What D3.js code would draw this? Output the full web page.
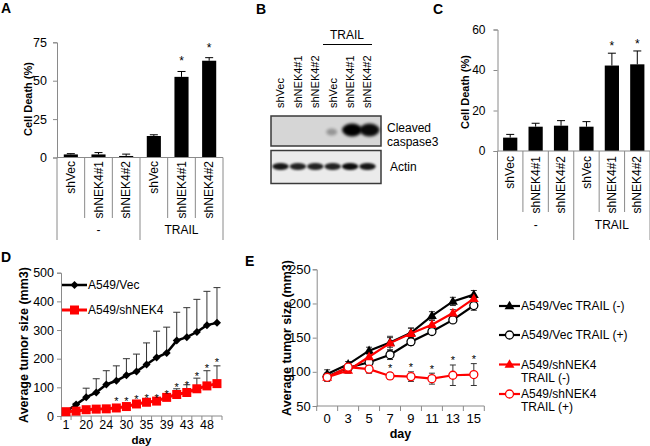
<!DOCTYPE html>
<html><head><meta charset="utf-8">
<script src="https://cdn.jsdelivr.net/npm/d3@7"></script>
<style>body{margin:0;background:#fff}svg{display:block;font-family:"Liberation Sans",Arial,sans-serif}</style>
</head><body><svg id="c" width="650" height="446"></svg>
<script>
// ---------- Panel A / C (bar charts) ----------
const barCats = ["shVec","shNEK4#1","shNEK4#2","shVec","shNEK4#1","shNEK4#2"];
const barGroups = ["-","TRAIL"];
const aValues = [2, 2, 1, 14, 52.5, 63];
const aErrors = [0.5, 1.2, 1.2, 0.8, 3.5, 2];
const aStars  = [false,false,false,false,true,true];
const aTicks  = [0, 25, 50, 75];
const cValues = [6.6, 12, 12.5, 12, 42.2, 42.8];
const cErrors = [1.6, 1.7, 2.5, 2.5, 6.1, 6.6];
const cStars  = [false,false,false,false,true,true];
const cTicks  = [0, 20, 40, 60];
// ---------- Panel B (blot) ----------
const blotLanes = ["shVec","shNEK4#1","shNEK4#2","shVec","shNEK4#1","shNEK4#2"];
const caspaseIntensity = [0, 0, 0, 0.3, 1, 0.95];
const actinIntensity   = [0.9, 0.85, 0.85, 0.85, 0.95, 0.9];
// ---------- Panel D ----------
const dDays = ["1","17","20","22","24","27","30","32","35","37","39","41","43","46","48","50"];
const dLabelDays = ["1","20","24","30","35","39","43","48"];
const vecMean = [15, 40, 65, 82, 110, 123, 142, 155, 180, 204, 220, 263, 275, 293, 317, 325];
const vecErr  = [0, 4, 32, 48, 48, 52, 58, 61, 75, 92, 90, 99, 103, 114, 118, 123];
const nekMean = [15, 17, 22, 24, 25, 28, 33, 42, 48, 52, 65, 75, 82, 95, 105, 113];
const nekErr  = [2, 2, 3, 3, 3, 4, 4, 4, 5, 5, 8, 20, 27, 37, 53, 62];
const dStarLevel = [null,null,null,null,null,59,59,66,70,72,86,108,118,148,176,198];
const dTicks = [0, 100, 200, 300, 400, 500];
const dSeries = ["A549/Vec","A549/shNEK4"];
// ---------- Panel E ----------
const eDays = ["0","3","5","7","9","11","13","15"];
const eVecMinus = [97, 111, 131, 143, 157, 182, 203, 213];
const eVecMinusErr = [6, 4, 5, 7, 7, 6, 6, 6];
const eVecPlus = [93, 106, 114, 125, 144, 159, 176, 197];
const eVecPlusErr = [5, 4, 4, 7, 5, 4, 4, 7];
const eNekMinus = [92, 102, 122, 142, 156, 169, 186, 207];
const eNekMinusErr = [5, 4, 6, 10, 8, 6, 5, 5];
const eNekPlus = [92, 107, 104, 94, 93, 90, 95, 96];
const eNekPlusErr = [6, 4, 6, 5, 7, 8, 15, 16];
const eStars = [false,false,false,true,true,true,true,true];
const eTicks = [50, 100, 150, 200, 250];
const eLegend = [["A549/Vec TRAIL (-)"],["A549/Vec TRAIL (+)"],["A549/shNEK4","TRAIL (-)"],["A549/shNEK4","TRAIL (+)"]];

const svg = d3.select("#c");
const AX = "#8a8a8a";
const RED = "#ff0000";
const FONT = "'Liberation Sans',Arial,sans-serif";

function star(g, x, yc, fs) {
  g.append("text").attr("x", x).attr("y", yc + 0.58 * fs).attr("text-anchor","middle")
   .attr("font-size", fs).attr("fill","#000").text("*");
}
function panelLabel(t, x, y) {
  svg.append("text").attr("x", x).attr("y", y).attr("font-size", 14).attr("font-weight","bold").text(t);
}
function yTitle(t, cx, cy, fs) {
  svg.append("text").attr("transform", `translate(${cx},${cy}) rotate(-90)`).attr("text-anchor","middle")
    .attr("dy","0.35em").attr("font-size", fs).attr("font-weight","bold").text(t);
}

function barPanel(o) {
  const g = svg.append("g");
  const x = d3.scaleBand().domain(d3.range(barCats.length)).range([o.x0, o.x1])
    .paddingInner(o.pad).paddingOuter(o.pad / 2);
  const y = d3.scaleLinear().domain([0, o.max]).range([o.yZero, o.yTop]);
  const ya = g.append("g").attr("transform", `translate(${o.x0},0)`)
    .call(d3.axisLeft(y).tickValues(o.ticks).tickSize(4).tickPadding(o.tickPad));
  ya.select(".domain").attr("stroke", AX);
  ya.selectAll(".tick line").attr("stroke", AX);
  ya.selectAll("text").attr("font-size", o.fsTick).attr("font-family", FONT).attr("fill","#000");
  g.selectAll(".bar").data(o.values).join("rect")
    .attr("x", (d,i) => x(i)).attr("width", x.bandwidth())
    .attr("y", d => y(d)).attr("height", d => o.yZero - y(d)).attr("fill","#000");
  o.values.forEach((v,i) => {
    const cx = x(i) + x.bandwidth()/2;
    const top = y(v + o.errors[i]);
    g.append("line").attr("x1",cx).attr("x2",cx).attr("y1",y(v)).attr("y2",top).attr("stroke","#000").attr("stroke-width",1);
    g.append("line").attr("x1",cx-4).attr("x2",cx+4).attr("y1",top).attr("y2",top).attr("stroke","#000").attr("stroke-width",1);
    if (o.stars[i]) star(g, cx, top - o.starGap, 12);
  });
  const step = x.step();
  g.append("line").attr("x1",o.x0).attr("x2",o.x1).attr("y1",o.yZero).attr("y2",o.yZero).attr("stroke",AX);
  for (let k = 0; k <= barCats.length; k++) {
    const xx = o.x0 + k * step;
    const long = (k % 3 === 0);
    g.append("line").attr("x1",xx).attr("x2",xx).attr("y1",o.yZero)
      .attr("y2", long ? o.groupBottom : o.innerBottom).attr("stroke", AX);
  }
  barCats.forEach((c,i) => {
    const cx = x(i) + x.bandwidth()/2;
    g.append("text").attr("transform",`translate(${cx},${o.catTop}) rotate(-90)`)
      .attr("text-anchor","end").attr("dy","0.35em").attr("font-size", o.fsCat).text(c);
  });
  barGroups.forEach((gname, j) => {
    const cx = o.x0 + (j * 3 + 1.5) * step;
    g.append("text").attr("x", cx).attr("y", o.groupY).attr("text-anchor","middle")
      .attr("font-size", o.fsCat).text(gname);
  });
}

// Panel A
panelLabel("A", 1, 13);
yTitle("Cell Death (%)", 28, 99, 11);
barPanel({x0:57, x1:223, yZero:157.5, yTop:42.3, max:75, ticks:aTicks, values:aValues, errors:aErrors,
  stars:aStars, pad:0.49, fsTick:12.5, fsCat:12, tickPad:6, catTop:161, innerBottom:218, groupBottom:240,
  groupY:234, starGap:13});

// Panel C
panelLabel("C", 433, 14);
yTitle("Cell Death (%)", 465, 92, 11);
barPanel({x0:497.5, x1:650, yZero:151, yTop:29.5, max:60, ticks:cTicks, values:cValues, errors:cErrors,
  stars:cStars, pad:0.44, fsTick:12, fsCat:12, tickPad:8, catTop:156, innerBottom:212, groupBottom:240,
  groupY:229, starGap:10});

// Panel B (western blot)
panelLabel("B", 256, 14);
(function(){
  const g = svg.append("g");
  const defs = svg.append("defs");
  defs.append("filter").attr("id","blur").attr("x","-50%").attr("y","-50%").attr("width","200%").attr("height","200%")
    .append("feGaussianBlur").attr("stdDeviation", 1.6);
  defs.append("filter").attr("id","blur2").attr("x","-50%").attr("y","-50%").attr("width","200%").attr("height","200%")
    .append("feGaussianBlur").attr("stdDeviation", 1.1);
  const lane = d3.scalePoint().domain(d3.range(blotLanes.length)).range([280.5, 367.5]);
  blotLanes.forEach((l,i) => {
    g.append("text").attr("transform",`translate(${lane(i)},108) rotate(-90)`)
      .attr("dy","0.35em").attr("font-size", 11).text(l);
  });
  g.append("text").attr("x", 347).attr("y", 39).attr("text-anchor","middle").attr("font-size", 12).text("TRAIL");
  g.append("line").attr("x1",323).attr("x2",372).attr("y1",44.5).attr("y2",44.5).attr("stroke","#000").attr("stroke-width",1);
  g.append("rect").attr("x",271).attr("y",116).attr("width",110).attr("height",30)
    .attr("fill","#d6d6d6").attr("stroke","#3a3a3a").attr("stroke-width",1.5);
  g.append("rect").attr("x",271).attr("y",150.5).attr("width",110).attr("height",33)
    .attr("fill","#ebebeb").attr("stroke","#3a3a3a").attr("stroke-width",1.5);
  caspaseIntensity.forEach((v,i) => {
    if (v <= 0) return;
    const big = v > 0.5;
    g.append("ellipse").attr("cx", lane(i) + (big ? 2 : -1)).attr("cy", big ? 130 : 132)
      .attr("rx", big ? 10 : 5.5).attr("ry", big ? 6.5 : 3.5)
      .attr("fill", "#000").attr("opacity", v).attr("filter","url(#blur)");
  });
  actinIntensity.forEach((v,i) => {
    g.append("ellipse").attr("cx", lane(i)).attr("cy", 166.5).attr("rx", 8.2).attr("ry", 3.4)
      .attr("fill","#000").attr("opacity", v).attr("filter","url(#blur2)");
  });
  g.append("text").attr("x",387).attr("y",132).attr("font-size",12).text("Cleaved");
  g.append("text").attr("x",387).attr("y",146).attr("font-size",12).text("caspase3");
  g.append("text").attr("x",390).attr("y",171).attr("font-size",12).text("Actin");
})();

// Panel D
panelLabel("D", 1, 262);
yTitle("Average tumor size (mm3)", 24, 345, 12.5);
(function(){
  const g = svg.append("g");
  const x0 = 61, x1 = 222, yZero = 416, yTop = 272.7;
  const x = d3.scalePoint().domain(dDays).range([x0, x1]).padding(0.5);
  const y = d3.scaleLinear().domain([0, 500]).range([yZero, yTop]);
  const ya = g.append("g").attr("transform",`translate(${x0},0)`)
    .call(d3.axisLeft(y).tickValues(dTicks).tickSize(4).tickPadding(3));
  ya.select(".domain").attr("stroke", AX);
  ya.selectAll(".tick line").attr("stroke", AX);
  ya.selectAll("text").attr("font-size", 12.5).attr("font-family", FONT).attr("fill","#000");
  const step = x.step();
  g.append("line").attr("x1",x0).attr("x2",x1).attr("y1",yZero).attr("y2",yZero).attr("stroke",AX);
  for (let k = 0; k <= dDays.length; k++) {
    const xx = x0 + k * step;
    g.append("line").attr("x1",xx).attr("x2",xx).attr("y1",yZero).attr("y2",yZero+4).attr("stroke",AX);
  }
  dDays.forEach(dd => {
    if (!dLabelDays.includes(dd)) return;
    g.append("text").attr("x", x(dd)).attr("y", 428.5).attr("text-anchor","middle").attr("font-size",12.5).text(dd);
  });
  g.append("text").attr("x", (x0+x1)/2).attr("y", 443.5).attr("text-anchor","middle").attr("font-size",11.5)
    .attr("font-weight","bold").text("day");
  function errs(mean, err, color) {
    mean.forEach((v,i) => {
      if (!err[i]) return;
      const cx = x(dDays[i]), top = y(v + err[i]);
      g.append("line").attr("x1",cx).attr("x2",cx).attr("y1",y(v)).attr("y2",top).attr("stroke",color).attr("stroke-width",1);
      g.append("line").attr("x1",cx-3.5).attr("x2",cx+3.5).attr("y1",top).attr("y2",top).attr("stroke",color).attr("stroke-width",1);
    });
  }
  errs(vecMean, vecErr, "#333");
  errs(nekMean, nekErr, "#333");
  const line = d3.line().x((d,i) => x(dDays[i])).y(d => y(d));
  g.append("path").attr("d", line(vecMean)).attr("fill","none").attr("stroke","#000").attr("stroke-width",2.5);
  const diamond = (cx, cy, r) => `M${cx},${cy-r}L${cx+r},${cy}L${cx},${cy+r}L${cx-r},${cy}Z`;
  vecMean.forEach((v,i) => g.append("path").attr("d", diamond(x(dDays[i]), y(v), 4)).attr("fill","#000"));
  g.append("path").attr("d", line(nekMean)).attr("fill","none").attr("stroke",RED).attr("stroke-width",3);
  nekMean.forEach((v,i) => g.append("rect").attr("x", x(dDays[i]) - 4.5).attr("y", y(v) - 4.5)
    .attr("width",9).attr("height",9).attr("fill",RED));
  dStarLevel.forEach((s,i) => { if (s != null) star(g, x(dDays[i]), y(s), 11); });
  const lg = [[285, "#000", "d"], [310, RED, "s"]];
  lg.forEach(([ly, col, m], j) => {
    g.append("line").attr("x1",62).attr("x2",87).attr("y1",ly).attr("y2",ly).attr("stroke",col).attr("stroke-width", j ? 3 : 2.5);
    if (m === "d") g.append("path").attr("d", diamond(74.5, ly, 4)).attr("fill", col);
    else g.append("rect").attr("x",70).attr("y",ly-4.5).attr("width",9).attr("height",9).attr("fill",col);
    g.append("text").attr("x", 88).attr("y", ly).attr("dy","0.35em").attr("font-size",12).text(dSeries[j]);
  });
})();

// Panel E
panelLabel("E", 245, 266);
yTitle("Average tumor size (mm3)", 287, 338, 12.5);
(function(){
  const g = svg.append("g");
  const x0 = 316.7, x1 = 484.3, yZero = 406, yTop = 269.3;
  const x = d3.scalePoint().domain(eDays).range([x0, x1]).padding(0.5);
  const y = d3.scaleLinear().domain([50, 250]).range([yZero, yTop]);
  const ya = g.append("g").attr("transform",`translate(${x0},0)`)
    .call(d3.axisLeft(y).tickValues(eTicks).tickSize(4).tickPadding(2));
  ya.select(".domain").attr("stroke", AX);
  ya.selectAll(".tick line").attr("stroke", AX);
  ya.selectAll("text").attr("font-size", 13).attr("font-family", FONT).attr("fill","#000");
  const step = x.step();
  g.append("line").attr("x1",x0).attr("x2",x1).attr("y1",yZero).attr("y2",yZero).attr("stroke",AX);
  for (let k = 0; k <= eDays.length; k++) {
    const xx = x0 + k * step;
    g.append("line").attr("x1",xx).attr("x2",xx).attr("y1",yZero).attr("y2",yZero+5).attr("stroke",AX);
  }
  eDays.forEach(dd => g.append("text").attr("x", x(dd)).attr("y", 422.5).attr("text-anchor","middle").attr("font-size",13).text(dd));
  g.append("text").attr("x", (x0+x1)/2).attr("y", 438).attr("text-anchor","middle").attr("font-size",12.5)
    .attr("font-weight","bold").text("day");
  const series = [
    {m:eVecMinus, e:eVecMinusErr, c:"#000", mk:"tri"},
    {m:eVecPlus,  e:eVecPlusErr,  c:"#000", mk:"circ"},
    {m:eNekMinus, e:eNekMinusErr, c:RED,   mk:"tri"},
    {m:eNekPlus,  e:eNekPlusErr,  c:RED,   mk:"circ"}];
  series.forEach(s => s.m.forEach((v,i) => {
    const cx = x(eDays[i]);
    const t = y(v + s.e[i]), b = y(v - s.e[i]);
    g.append("line").attr("x1",cx).attr("x2",cx).attr("y1",t).attr("y2",b).attr("stroke","#333").attr("stroke-width",1);
    [t,b].forEach(yy => g.append("line").attr("x1",cx-3).attr("x2",cx+3).attr("y1",yy).attr("y2",yy).attr("stroke","#333").attr("stroke-width",1));
  }));
  const line = d3.line().x((d,i) => x(eDays[i])).y(d => y(d));
  const tri = d3.symbol().type(d3.symbolTriangle).size(42);
  function marker(sel, mk, c, cx, cy) {
    if (mk === "tri") sel.append("path").attr("d", tri()).attr("transform",`translate(${cx},${cy+0.5})`).attr("fill", c);
    else sel.append("circle").attr("cx",cx).attr("cy",cy).attr("r",4).attr("fill","#fff").attr("stroke",c).attr("stroke-width",1.3);
  }
  series.forEach(s => {
    g.append("path").attr("d", line(s.m)).attr("fill","none").attr("stroke", s.c).attr("stroke-width", 2.2);
    s.m.forEach((v,i) => marker(g, s.mk, s.c, x(eDays[i]), y(v)));
  });
  eStars.forEach((st,i) => { if (st) star(g, x(eDays[i]), y(eNekPlus[i] + eNekPlusErr[i]) - 7, 11); });
  const ly = [306, 335, 364.5, 394];
  series.forEach((s,j) => {
    g.append("line").attr("x1",499).attr("x2",520).attr("y1",ly[j]).attr("y2",ly[j]).attr("stroke",s.c).attr("stroke-width",2.2);
    marker(g, s.mk, s.c, 509.5, ly[j]);
    eLegend[j].forEach((t,k) => g.append("text").attr("x",521).attr("y", ly[j] + k*13).attr("dy","0.35em")
      .attr("font-size",12).text(t));
  });
})();
</script></body></html>
